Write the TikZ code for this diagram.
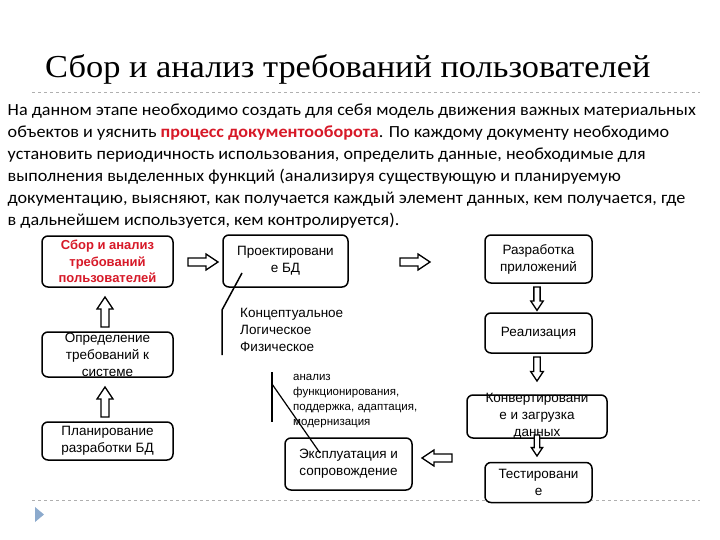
\documentclass[tikz,border=0pt]{standalone}
\usepackage{graphicx}
\usepackage{fontspec}
\setmainfont{Carlito}
\newfontfamily\titlefont{Liberation Serif}
\newfontfamily\boxfont{Liberation Sans}
\usetikzlibrary{positioning}
\definecolor{hilite}{RGB}{215,25,40}
\definecolor{rulegray}{RGB}{175,175,175}
\definecolor{bulletblue}{RGB}{140,170,205}

\begin{document}
\begin{tikzpicture}[x=1pt,y=-1pt,
    box/.style={draw,line width=1.5pt,rounded corners=6pt,align=center,inner sep=1pt,
      font=\boxfont\fontsize{13.5}{17}\selectfont},
    note/.style={align=left,inner sep=0pt,font=\boxfont\fontsize{13.5}{17}\selectfont},
    hollow/.pic={\draw[line width=1.3pt,fill=white] (0,-4) -- (18,-4) -- (18,-8) -- (30,0) -- (18,8) -- (18,4) -- (0,4) -- cycle;}]
  \useasboundingbox[fill=white] (0,0) rectangle (720,540);

  % title and text
  \node[anchor=base west,inner sep=0pt,font=\titlefont\fontsize{32}{32}\selectfont] (title) at (45,77.5)
    {\scalebox{1.075}[1]{Сбор и анализ требований пользователей}};
  \draw[rulegray,dashed,line width=0.8pt] (32,92) -- (700,92);
  \node[anchor=north west,inner sep=0pt,align=left,xscale=1.066,transform shape,
    font=\fontsize{17}{22}\selectfont] (intro) at (7.5,104)
    {На данном этапе необходимо создать для себя модель движения важных материальных\\
     объектов и уяснить {\bfseries\color{hilite}процесс документооборота}. По каждому документу необходимо\\
     установить периодичность использования, определить данные, необходимые для\\
     выполнения выделенных функций (анализируя существующую и планируемую\\
     документацию, выясняют, как получается каждый элемент данных, кем получается, где\\
     в дальнейшем используется, кем контролируется).};

  % left column
  \node[box,minimum width=131,minimum height=51,text=hilite,font=\boxfont\bfseries\fontsize{13}{16.5}\selectfont] (collect) at (107.5,261.5)
    {Сбор и анализ\\требований\\пользователей};
  \node[box,minimum width=131,minimum height=45,
    label={[note,align=center]center:Определение\\требований к\\системе}] (define) at (107.5,354.5) {};
  \node[box,minimum width=131,minimum height=38] (plan) at (107.5,441) {Планирование\\разработки БД};
  \pic[rotate=90] at (105,327) {hollow};
  \pic[rotate=90] at (105,417) {hollow};

  % middle
  \pic at (188,262) {hollow};
  \node[box,minimum width=125,minimum height=52] (design) at (285.5,261) {Проектировани\\е БД};
  \node[note,anchor=north west] (levels) at (240,308) {Концептуальное\\Логическое\\Физическое};
  \coordinate (dtail) at (242,273);
  \coordinate (dknee) at (222,310);
  \coordinate (dfoot) at (222,355);
  \draw[line width=1.5pt] (dtail) -- (dknee) -- (dfoot);

  \node[note,anchor=north west,font=\boxfont\fontsize{11.5}{15}\selectfont] (upkeep) at (293,374)
    {анализ\\функционирования,\\поддержка, адаптация,\\модернизация};
  \node[box,minimum width=127,minimum height=52] (operate) at (348.5,464) {Эксплуатация и\\сопровождение};
  \coordinate (otop) at (272,372);
  \coordinate (ofoot) at (272,422);
  \coordinate (ofork) at (272,384);
  \coordinate (otip) at (320,453);
  \draw[line width=1.5pt] (otop) -- (ofoot);
  \draw[line width=1.2pt] (ofork) -- (otip);
  \pic[rotate=180] at (452,458) {hollow};

  % right column
  \pic at (400,262) {hollow};
  \node[box,minimum width=107,minimum height=48] (apps) at (538.5,259) {Разработка\\приложений};
  \node[box,minimum width=107,minimum height=40] (build) at (538.5,333) {Реализация};
  \node[box,minimum width=140,minimum height=43,
    label={[note,align=center]center:Конвертировани\\е и загрузка\\данных}] (load) at (537,416.5) {};
  \draw[rulegray,dashed,line width=0.8pt] (32,500) -- (700,500);
  \node[box,minimum width=107,minimum height=40,fill=white] (test) at (538.5,482.5) {Тестировани\\е};
  \pic[rotate=-90,scale=0.78] at (537,287) {hollow};
  \pic[rotate=-90,scale=0.8] at (537,357) {hollow};
  \pic[rotate=-90,scale=0.7] at (537,435) {hollow};

  \fill[bulletblue] (35,507) -- (44,514.5) -- (35,522) -- cycle;
\end{tikzpicture}
\end{document}
